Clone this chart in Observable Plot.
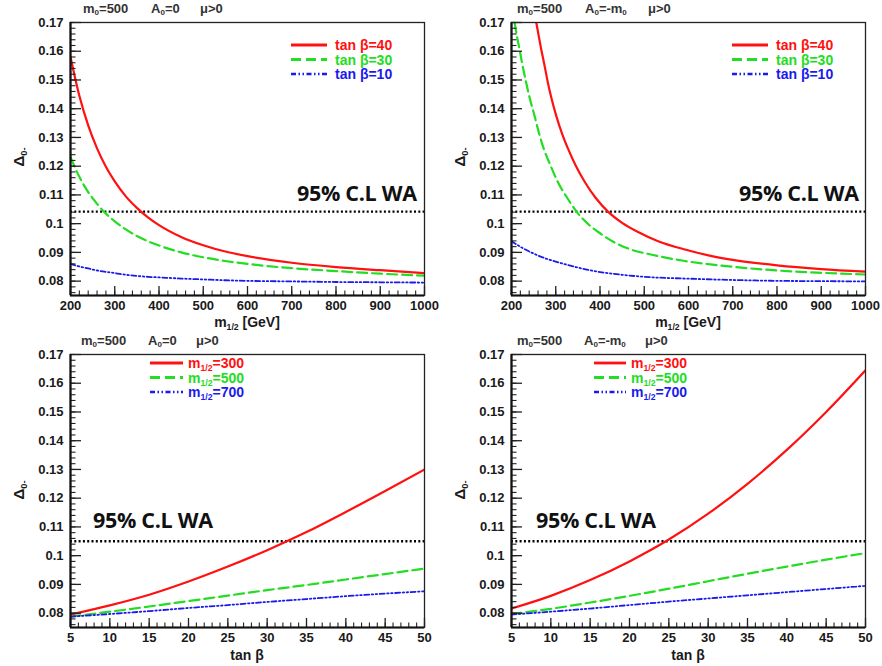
<!DOCTYPE html>
<html><head><meta charset="utf-8">
<script src="https://cdn.jsdelivr.net/npm/d3@7"></script>
<script src="https://cdn.jsdelivr.net/npm/@observablehq/plot@0.6"></script>
<style>
body{margin:0;background:#fff;}
#root{position:relative;width:882px;height:666px;overflow:hidden;font-family:"Liberation Sans",Arial,sans-serif;background:#fff;}
.panel{position:absolute;width:441px;height:333px;}
.panel svg{position:absolute;left:0;top:0;}
.lab{position:absolute;white-space:nowrap;font-weight:bold;line-height:1;}
.lab sub{font-size:0.62em;vertical-align:-0.35em;line-height:0;}
.wa{position:absolute;white-space:nowrap;font-family:"Open Sans",sans-serif;font-weight:bold;font-size:21.5px;color:#111;line-height:1;letter-spacing:-0.3px;}
</style></head><body><div id="root"></div>
<script>
// ---------- data ----------
const yTicks = [0.08, 0.09, 0.1, 0.11, 0.12, 0.13, 0.14, 0.15, 0.16, 0.17];
const m12Ticks = [200, 300, 400, 500, 600, 700, 800, 900, 1000];
const tanbTicks = [5, 10, 15, 20, 25, 30, 35, 40, 45, 50];
const yDomain = [0.075, 0.17];
const waTop = 0.1042;
const waBottom = 0.105;

// Top-left: A0 = 0, vs m1/2
const m12_A = [200,220,240,260,280,300,325,350,375,400,450,500,550,600,700,800,900,1000];
const dA_tb40 = [0.1580,0.1445,0.1342,0.1262,0.1198,0.1147,0.1095,0.1055,0.1022,0.0995,0.0954,0.0925,0.0903,0.0887,0.0864,0.0849,0.0838,0.0828];
const dA_tb30 = [0.1231,0.1163,0.1110,0.1069,0.1035,0.1008,0.0980,0.0957,0.0939,0.0924,0.0900,0.0883,0.0870,0.0860,0.0845,0.0835,0.0826,0.0819];
const dA_tb10 = [0.0860,0.0851,0.0844,0.0837,0.0832,0.0828,0.0822,0.0818,0.0815,0.0813,0.0809,0.0806,0.0803,0.0801,0.0799,0.0797,0.0796,0.0795];

// Top-right: A0 = -m0, vs m1/2
const m12_B_tb40 = [256,260,267,275,282,290,301,315,328,345,366,390,418,450,486,530,592,650,700,800,900,1000];
const dB_tb40 = [0.1700,0.1666,0.1608,0.1548,0.1492,0.1438,0.1376,0.1310,0.1260,0.1202,0.1144,0.1090,0.1042,0.1003,0.0971,0.0940,0.0910,0.0888,0.0874,0.0855,0.0842,0.0833];
const m12_B_tb30 = [207,212,218,225,233,242,252,262,273,288,305,325,347,370,396,430,464,520,592,650,700,800,900,1000];
const dB_tb30 = [0.1700,0.1655,0.1608,0.1550,0.1492,0.1432,0.1376,0.1316,0.1260,0.1203,0.1144,0.1092,0.1042,0.1003,0.0971,0.0937,0.0913,0.0891,0.0870,0.0858,0.0850,0.0837,0.0829,0.0823];
const m12_B_tb10 = [200,225,250,275,300,335,370,411,450,500,592,700,800,900,1000];
const dB_tb10 = [0.0939,0.0915,0.0896,0.0880,0.0868,0.0853,0.0840,0.0829,0.0822,0.0815,0.0809,0.0804,0.0801,0.0800,0.0799];

// Bottom: vs tan beta
const tanb = [5,10,15,20,25,30,35,40,45,50];
const dA_m300 = [0.0795,0.0827,0.0864,0.0910,0.0962,0.1019,0.1082,0.1152,0.1225,0.1300];
const dA_m500 = [0.0788,0.0805,0.0823,0.0842,0.0861,0.0880,0.0898,0.0917,0.0936,0.0955];
const dA_m700 = [0.0788,0.0797,0.0807,0.0818,0.0828,0.0839,0.0849,0.0859,0.0868,0.0876];
const dB_m300 = [0.0816,0.0860,0.0915,0.0980,0.1056,0.1146,0.1250,0.1368,0.1500,0.1645];
const dB_m500 = [0.0797,0.0815,0.0837,0.0860,0.0885,0.0911,0.0937,0.0962,0.0986,0.1009];
const dB_m700 = [0.0795,0.0805,0.0816,0.0828,0.0840,0.0851,0.0862,0.0873,0.0884,0.0895];

// ---------- styles ----------
const RED = "#ff1111", GREEN = "#22dd22", BLUE = "#1a1aee";
const sRed = {color: RED, w: 2.2, dash: null};
const sGreen = {color: GREEN, w: 2.2, dash: "10 5"};
const sBlue = {color: BLUE, w: 1.8, dash: "5 2.5 1.5 2.5 1.5 2.5"};

const zip = (xs, ys) => xs.map((x, i) => ({x, y: ys[i]}));

const panels = [
  {left: 0, top: 0, xDomain: [200, 1000], xTicks: m12Ticks, xMinorStep: 20, wa: waTop, mt: 22, mb: 38,
   series: [[zip(m12_A, dA_tb40), sRed], [zip(m12_A, dA_tb30), sGreen], [zip(m12_A, dA_tb10), sBlue]],
   head: [[83, 'm<sub>0</sub>=500'], [151, 'A<sub>0</sub>=0'], [200, 'μ&gt;0']], headY: 8,
   xlabel: 'm<sub>1/2</sub> [GeV]', waX: 297, waY: 193,
   legend: {x0: 291, x1: 327, tx: 335, ys: [45, 59.5, 74], labels: ['tan β=40', 'tan β=30', 'tan β=10']}},
  {left: 441, top: 0, xDomain: [200, 1000], xTicks: m12Ticks, xMinorStep: 20, wa: waTop, mt: 22, mb: 38,
   series: [[zip(m12_B_tb40, dB_tb40), sRed], [zip(m12_B_tb30, dB_tb30), sGreen], [zip(m12_B_tb10, dB_tb10), sBlue]],
   head: [[76, 'm<sub>0</sub>=500'], [144, 'A<sub>0</sub>=-m<sub>0</sub>'], [207, 'μ&gt;0']], headY: 8,
   xlabel: 'm<sub>1/2</sub> [GeV]', waX: 298, waY: 193,
   legend: {x0: 291, x1: 327, tx: 335, ys: [45, 59.5, 74], labels: ['tan β=40', 'tan β=30', 'tan β=10']}},
  {left: 0, top: 333, xDomain: [5, 50], xTicks: tanbTicks, xMinorStep: 1, wa: waBottom, mt: 21, mb: 39,
   series: [[zip(tanb, dA_m300), sRed], [zip(tanb, dA_m500), sGreen], [zip(tanb, dA_m700), sBlue]],
   head: [[81, 'm<sub>0</sub>=500'], [148, 'A<sub>0</sub>=0'], [196, 'μ&gt;0']], headY: 7,
   xlabel: 'tan β', waX: 93, waY: 187,
   legend: {x0: 150, x1: 183, tx: 188, ys: [30, 44.5, 59], labels: ['m<sub>1/2</sub>=300', 'm<sub>1/2</sub>=500', 'm<sub>1/2</sub>=700']}},
  {left: 441, top: 333, xDomain: [5, 50], xTicks: tanbTicks, xMinorStep: 1, wa: waBottom, mt: 21, mb: 39,
   series: [[zip(tanb, dB_m300), sRed], [zip(tanb, dB_m500), sGreen], [zip(tanb, dB_m700), sBlue]],
   head: [[76, 'm<sub>0</sub>=500'], [143, 'A<sub>0</sub>=-m<sub>0</sub>'], [204, 'μ&gt;0']], headY: 7,
   xlabel: 'tan β', waX: 95, waY: 187,
   legend: {x0: 153, x1: 185, tx: 190, ys: [30, 44.5, 59], labels: ['m<sub>1/2</sub>=300', 'm<sub>1/2</sub>=500', 'm<sub>1/2</sub>=700']}}
];

const root = document.getElementById("root");
const W = 441, H = 333, ML = 70, MR = 17;

function addLab(el, html, x, y, opts = {}) {
  const d = document.createElement("div");
  d.className = "lab";
  d.innerHTML = html;
  d.style.left = x + "px";
  d.style.top = y + "px";
  d.style.fontSize = (opts.size || 12) + "px";
  d.style.color = opts.color || "#222";
  const tx = opts.center ? "-50%" : "0";
  d.style.transform = `translate(${tx},-50%)` + (opts.rotate ? ` rotate(${opts.rotate}deg)` : "");
  el.appendChild(d);
  return d;
}

for (const p of panels) {
  const el = document.createElement("div");
  el.className = "panel";
  el.style.left = p.left + "px";
  el.style.top = p.top + "px";
  root.appendChild(el);

  const fw = W - ML - MR, fh = H - p.mt - p.mb;
  const yMinor = d3.range(0.076, 0.1705, 0.002).map(v => +v.toFixed(3));
  const xMinor = d3.range(p.xDomain[0], p.xDomain[1] + 1e-9, p.xMinorStep);

  const chart = Plot.plot({
    width: W, height: H,
    marginLeft: ML, marginRight: MR, marginTop: p.mt, marginBottom: p.mb,
    x: {domain: p.xDomain},
    y: {domain: yDomain},
    style: {fontFamily: "Liberation Sans, Arial, sans-serif", fontSize: "13px", color: "#1a1a1a", background: "transparent"},
    marks: [
      Plot.ruleY([p.wa], {stroke: "#000", strokeWidth: 2.4, strokeDasharray: "2 2.3"}),
      ...p.series.map(([data, s]) => Plot.line(data, {x: "x", y: "y", stroke: s.color, strokeWidth: s.w, strokeDasharray: s.dash, curve: "monotone-x", clip: true})),
      Plot.tickY(yMinor, {y: d => d, insetRight: fw - 5.5, stroke: "#222", strokeWidth: 1.1}),
      Plot.tickY(yTicks, {y: d => d, insetRight: fw - 11, stroke: "#222", strokeWidth: 1.3}),
      Plot.tickX(xMinor, {x: d => d, insetTop: fh - 4.5, stroke: "#222", strokeWidth: 1.1}),
      Plot.tickX(p.xTicks, {x: d => d, insetTop: fh - 9, stroke: "#222", strokeWidth: 1.3}),
      Plot.frame({stroke: "#222", strokeWidth: 1.3}),
      Plot.ruleX([p.xDomain[0]], {stroke: "#111", strokeWidth: 2.2}),
      Plot.ruleY([yDomain[0]], {stroke: "#111", strokeWidth: 2.2}),
      Plot.axisY(yTicks, {tickSize: 0, tickPadding: 7, tickFormat: d => String(d), fontWeight: "bold", label: null}),
      Plot.axisX(p.xTicks, {tickSize: 0, tickPadding: 5, tickFormat: d => String(d), fontWeight: "bold", label: null})
    ]
  });
  el.appendChild(chart);

  // header
  for (const [x, t] of p.head) addLab(el, t, x, p.headY, {size: 13, color: "#333"});
  // x label
  addLab(el, p.xlabel, 247, 322, {size: 14, center: true, color: "#1a1a1a"});
  // y label
  addLab(el, 'Δ<sub>0-</sub>', 18, 157, {size: 15, center: true, rotate: -90, color: "#1a1a1a"});
  // WA text
  const wa = document.createElement("div");
  wa.className = "wa";
  wa.textContent = "95% C.L WA";
  wa.style.left = p.waX + "px";
  wa.style.top = p.waY + "px";
  wa.style.transform = "translateY(-50%)";
  el.appendChild(wa);
  // legend
  const L = p.legend;
  const lsvg = d3.select(el).append("svg").attr("width", W).attr("height", H).style("pointer-events", "none");
  p.series.forEach(([, s], i) => {
    lsvg.append("line").attr("x1", L.x0).attr("x2", L.x1).attr("y1", L.ys[i]).attr("y2", L.ys[i])
      .attr("stroke", s.color).attr("stroke-width", s.w + 0.6).attr("stroke-dasharray", s.dash);
    addLab(el, L.labels[i], L.tx, L.ys[i], {size: 14, color: s.color});
  });
}
</script></body></html>
